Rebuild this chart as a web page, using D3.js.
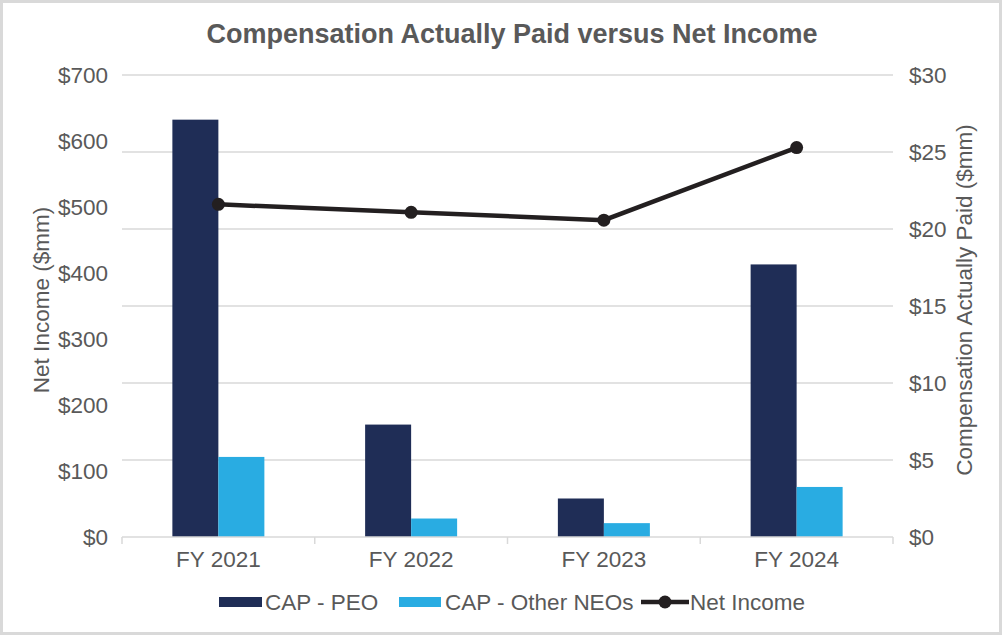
<!DOCTYPE html>
<html>
<head>
<meta charset="utf-8">
<script src="https://cdn.jsdelivr.net/npm/d3@7"></script>
<style>
  body { margin: 0; background: #fff; }
  svg text { font-family: "Liberation Sans", Arial, sans-serif; fill: #595959; }
</style>
</head>
<body>
<svg id="chart"></svg>
<script>
// data
var years = ['FY 2021', 'FY 2022', 'FY 2023', 'FY 2024'];
var capPeo = [27.1, 7.3, 2.5, 17.7];
var capOther = [5.2, 1.2, 0.9, 3.25];
var netIncome = [504, 492, 480, 590];
var leftTicks = [0, 100, 200, 300, 400, 500, 600, 700];
var rightTicks = [0, 5, 10, 15, 20, 25, 30];
var seriesNames = ['CAP - PEO', 'CAP - Other NEOs', 'Net Income'];

var width = 1004, height = 636;
var plotLeft = 122, plotRight = 893, plotTop = 75, plotBottom = 537;
var fontSize = '22.5px';

var svg = d3.select('#chart')
    .attr('width', width)
    .attr('height', height);

// frame
svg.append('rect')
    .attr('x', 1.5).attr('y', 1.5)
    .attr('width', width - 5).attr('height', height - 4)
    .attr('fill', '#fff')
    .attr('stroke', '#d9d9d9')
    .attr('stroke-width', 3);

var x0 = d3.scaleBand()
    .domain(years)
    .range([plotLeft, plotRight])
    .padding(0);

var groupW = 92;
var x1 = d3.scaleBand()
    .domain(['peo', 'other'])
    .range([0, groupW]);

var yLeft = d3.scaleLinear()
    .domain([0, 700])
    .range([plotBottom, plotTop]);

var yRight = d3.scaleLinear()
    .domain([0, 30])
    .range([plotBottom, plotTop]);

// gridlines (follow the right axis)
svg.append('g')
    .selectAll('line')
    .data(rightTicks.slice(1))
    .enter()
    .append('line')
    .attr('x1', plotLeft).attr('x2', plotRight)
    .attr('y1', function(d) { return yRight(d); })
    .attr('y2', function(d) { return yRight(d); })
    .attr('stroke', '#d9d9d9')
    .attr('stroke-width', 1.5);

// bars
var groups = svg.append('g')
    .selectAll('g')
    .data(years)
    .enter()
    .append('g')
    .attr('transform', function(d) {
        return 'translate(' + (x0(d) + x0.bandwidth() / 2 - groupW / 2) + ',0)';
    });

groups.append('rect')
    .attr('x', x1('peo'))
    .attr('width', x1.bandwidth())
    .attr('y', function(d, i) { return yRight(capPeo[i]); })
    .attr('height', function(d, i) { return plotBottom - yRight(capPeo[i]); })
    .attr('fill', '#1f2d56');

groups.append('rect')
    .attr('x', x1('other'))
    .attr('width', x1.bandwidth())
    .attr('y', function(d, i) { return yRight(capOther[i]); })
    .attr('height', function(d, i) { return plotBottom - yRight(capOther[i]); })
    .attr('fill', '#29ace2');

// x axis
var xAxis = svg.append('g')
    .attr('transform', 'translate(0,' + plotBottom + ')')
    .call(d3.axisBottom(x0).tickSize(0).tickPadding(14));
xAxis.select('.domain').remove();
xAxis.selectAll('text')
    .style('font-size', fontSize)
    .attr('fill', '#595959');

svg.append('line')
    .attr('x1', plotLeft).attr('x2', plotRight)
    .attr('y1', plotBottom).attr('y2', plotBottom)
    .attr('stroke', '#d9d9d9').attr('stroke-width', 1.5);

var boundaries = years.map(function(d) { return x0(d); }).concat([plotRight]);
svg.append('g')
    .selectAll('line')
    .data(boundaries)
    .enter()
    .append('line')
    .attr('x1', function(d) { return d; })
    .attr('x2', function(d) { return d; })
    .attr('y1', plotBottom).attr('y2', plotBottom + 7)
    .attr('stroke', '#d9d9d9').attr('stroke-width', 1.5);

// left axis
var leftAxis = svg.append('g')
    .attr('transform', 'translate(' + plotLeft + ',0)')
    .call(d3.axisLeft(yLeft).tickValues(leftTicks).tickSize(0).tickPadding(14)
        .tickFormat(function(d) { return '$' + d; }));
leftAxis.select('.domain').remove();
leftAxis.selectAll('text')
    .style('font-size', fontSize)
    .attr('fill', '#595959');

// right axis
var rightAxis = svg.append('g')
    .attr('transform', 'translate(' + plotRight + ',0)')
    .call(d3.axisRight(yRight).tickValues(rightTicks).tickSize(0).tickPadding(16)
        .tickFormat(function(d) { return '$' + d; }));
rightAxis.select('.domain').remove();
rightAxis.selectAll('text')
    .style('font-size', fontSize)
    .attr('fill', '#595959');

// net income line
var line = d3.line()
    .x(function(d, i) { return x0(years[i]) + x0.bandwidth() / 2; })
    .y(function(d) { return yLeft(d); });

svg.append('path')
    .datum(netIncome)
    .attr('d', line)
    .attr('fill', 'none')
    .attr('stroke', '#231f20')
    .attr('stroke-width', 4.5);

svg.append('g')
    .selectAll('circle')
    .data(netIncome)
    .enter()
    .append('circle')
    .attr('cx', function(d, i) { return x0(years[i]) + x0.bandwidth() / 2; })
    .attr('cy', function(d) { return yLeft(d); })
    .attr('r', 6.5)
    .attr('fill', '#231f20');

// title
svg.append('text')
    .attr('x', 512).attr('y', 43)
    .attr('text-anchor', 'middle')
    .style('font-size', '27px')
    .style('font-weight', 'bold')
    .text('Compensation Actually Paid versus Net Income');

// axis titles
svg.append('text')
    .attr('transform', 'translate(49,300) rotate(-90)')
    .attr('text-anchor', 'middle')
    .style('font-size', fontSize)
    .text('Net Income ($mm)');

svg.append('text')
    .attr('transform', 'translate(972,300) rotate(-90)')
    .attr('text-anchor', 'middle')
    .style('font-size', fontSize)
    .text('Compensation Actually Paid ($mm)');

// legend
var legendY = 602;
svg.append('rect')
    .attr('x', 219).attr('y', legendY - 5).attr('width', 43).attr('height', 10)
    .attr('fill', '#1f2d56');
svg.append('text')
    .attr('x', 265).attr('y', legendY + 8)
    .style('font-size', fontSize)
    .text(seriesNames[0]);

svg.append('rect')
    .attr('x', 399).attr('y', legendY - 5).attr('width', 42).attr('height', 10)
    .attr('fill', '#29ace2');
svg.append('text')
    .attr('x', 445).attr('y', legendY + 8)
    .style('font-size', fontSize)
    .text(seriesNames[1]);

svg.append('line')
    .attr('x1', 641).attr('x2', 689)
    .attr('y1', legendY).attr('y2', legendY)
    .attr('stroke', '#231f20').attr('stroke-width', 4.5);
svg.append('circle')
    .attr('cx', 665).attr('cy', legendY).attr('r', 6.5)
    .attr('fill', '#231f20');
svg.append('text')
    .attr('x', 690).attr('y', legendY + 8)
    .style('font-size', fontSize)
    .text(seriesNames[2]);
</script>
</body>
</html>
